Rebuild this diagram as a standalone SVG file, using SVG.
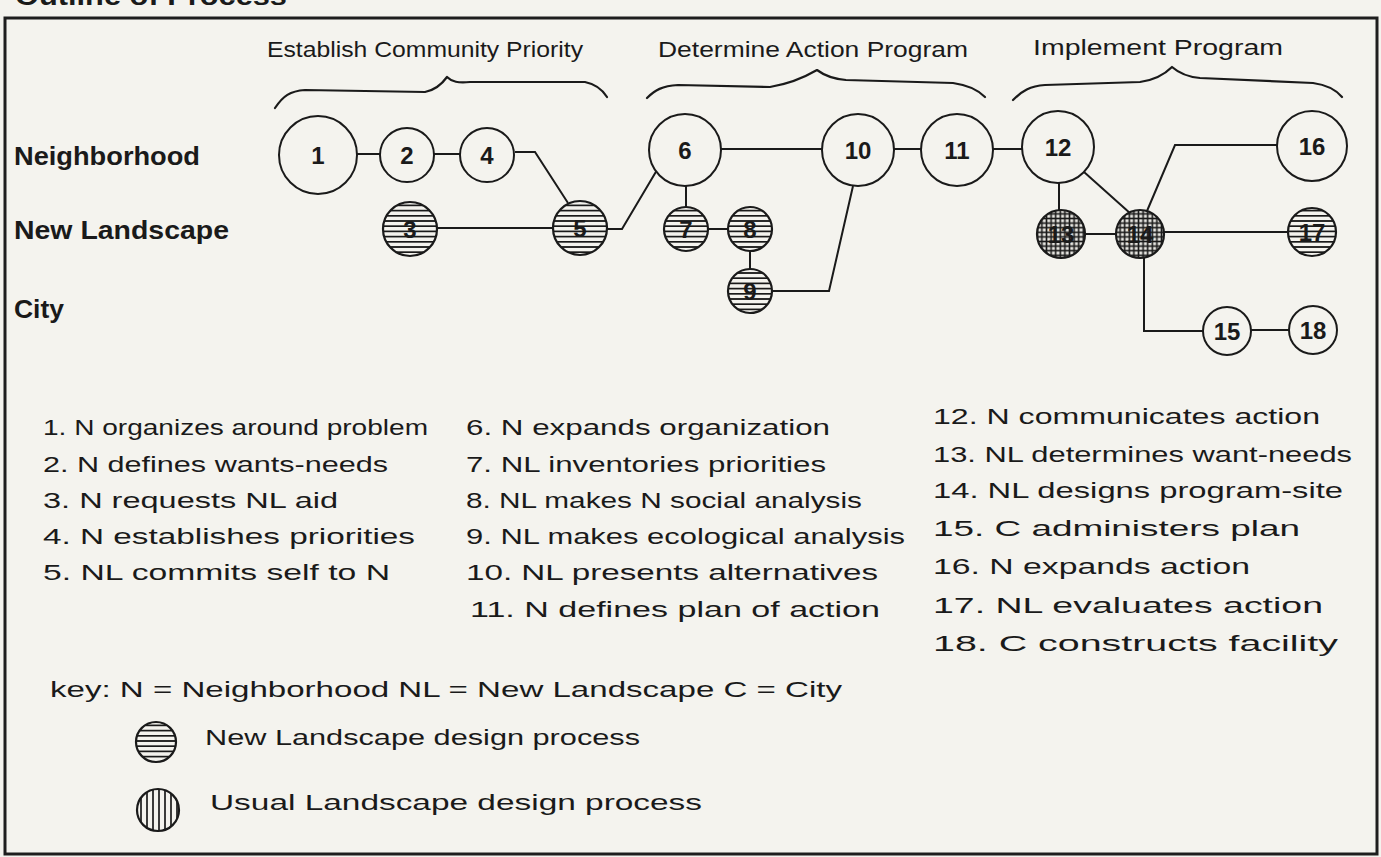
<svg xmlns="http://www.w3.org/2000/svg" width="1381" height="857" viewBox="0 0 1381 857">
<defs>
<pattern id="hh" patternUnits="userSpaceOnUse" width="10" height="5.2">
<rect width="10" height="5.2" fill="#f4f3ee"/>
<line x1="0" y1="2.6" x2="10" y2="2.6" stroke="#1a1a1a" stroke-width="1.7"/>
</pattern>
<pattern id="vv" patternUnits="userSpaceOnUse" width="6" height="10">
<rect width="6" height="10" fill="#f4f3ee"/>
<line x1="3" y1="0" x2="3" y2="10" stroke="#1a1a1a" stroke-width="1.7"/>
</pattern>
<pattern id="xx" patternUnits="userSpaceOnUse" width="4.6" height="4.6">
<rect width="4.6" height="4.6" fill="#e8e7e2"/>
<line x1="0" y1="2.3" x2="4.6" y2="2.3" stroke="#1a1a1a" stroke-width="1.6"/>
<line x1="2.3" y1="0" x2="2.3" y2="4.6" stroke="#1a1a1a" stroke-width="1.6"/>
</pattern>
</defs>
<style>
.bg{fill:#f4f3ee}
.frame{fill:none;stroke:#1e1e1e;stroke-width:3}
.n{fill:#f4f3ee;stroke:#1a1a1a;stroke-width:2}
.h{fill:url(#hh);stroke:#1a1a1a;stroke-width:2.2}
.v{fill:url(#vv);stroke:#1a1a1a;stroke-width:2.2}
.x{fill:url(#xx);stroke:#1a1a1a;stroke-width:2.2}
.num{font-family:"Liberation Sans",Arial,sans-serif;font-weight:bold;font-size:24px;fill:#1a1a1a;text-anchor:middle}
.lane{font-family:"Liberation Sans",Arial,sans-serif;font-weight:bold;font-size:25px;fill:#1a1a1a}
.hw{font-family:"Liberation Sans",Arial,sans-serif;font-size:22px;fill:#1a1a1a}
.title{font-family:"Liberation Sans",Arial,sans-serif;font-weight:bold;font-size:25px;fill:#1a1a1a}
.c{fill:none;stroke:#1a1a1a;stroke-width:2}
.brace{fill:none;stroke:#1a1a1a;stroke-width:2.2;stroke-linecap:round;stroke-linejoin:round}
</style>
<rect class="bg" x="0" y="0" width="1381" height="857"/>
<text class="title" x="15" y="5" textLength="272" lengthAdjust="spacingAndGlyphs">Outline  of  Process</text>
<rect class="frame" x="5" y="18" width="1372" height="836"/>

<g id="lanes">
<text class="lane" x="14" y="165" textLength="186" lengthAdjust="spacingAndGlyphs">Neighborhood</text>
<text class="lane" x="14" y="239" textLength="215" lengthAdjust="spacingAndGlyphs">New  Landscape</text>
<text class="lane" x="14" y="318" textLength="50" lengthAdjust="spacingAndGlyphs">City</text>
</g>

<g id="phases">
<text class="hw" x="267" y="57" textLength="316" lengthAdjust="spacingAndGlyphs">Establish Community Priority</text>
<path class="brace" d="M275,108 C283,96 290,91 305,90 L425,92 C435,90 442,84 447,77 C452,82 458,83 470,82 L585,82 C595,84 602,89 607,97"/>
<text class="hw" x="658" y="57" textLength="310" lengthAdjust="spacingAndGlyphs">Determine Action Program</text>
<path class="brace" d="M647,98 C655,90 662,86 678,85 L770,87 C788,84 805,77 817,70 C825,76 834,79 846,80 L953,83 C968,85 978,90 985,97"/>
<text class="hw" x="1033" y="55" textLength="250" lengthAdjust="spacingAndGlyphs">Implement Program</text>
<path class="brace" d="M1013,100 C1022,91 1030,86 1045,85 L1140,82 C1155,80 1165,74 1172,67 C1180,74 1188,77 1200,78 L1313,83 C1328,85 1337,91 1342,97"/>
</g>

<g id="connectors">
<line class="c" x1="357" y1="154" x2="380" y2="154"/>
<line class="c" x1="434" y1="154" x2="460" y2="154"/>
<polyline class="c" points="515,152 535,152 568,203"/>
<line class="c" x1="437" y1="228" x2="553" y2="228"/>
<polyline class="c" points="607,229 622,229 657,170"/>
<line class="c" x1="721" y1="149" x2="822" y2="149"/>
<line class="c" x1="894" y1="149" x2="921" y2="149"/>
<line class="c" x1="686" y1="185" x2="686" y2="207"/>
<line class="c" x1="707" y1="229" x2="728" y2="229"/>
<line class="c" x1="750" y1="251" x2="750" y2="269"/>
<polyline class="c" points="772,291 829,291 853,186"/>
<line class="c" x1="993" y1="149" x2="1022" y2="149"/>
<line class="c" x1="1059" y1="183" x2="1059" y2="210"/>
<line class="c" x1="1084" y1="172" x2="1131" y2="214"/>
<line class="c" x1="1085" y1="234" x2="1116" y2="234"/>
<polyline class="c" points="1147,211 1175,145 1277,145"/>
<line class="c" x1="1164" y1="232" x2="1288" y2="232"/>
<polyline class="c" points="1144,258 1144,331 1203,331"/>
<line class="c" x1="1251" y1="330" x2="1289" y2="330"/>
</g>

<g id="node1"><circle class="n" cx="318" cy="155" r="39"/><text class="num" x="318" y="164">1</text></g>
<g id="node2"><circle class="n" cx="407" cy="155" r="27"/><text class="num" x="407" y="164">2</text></g>
<g id="node3"><circle class="h" cx="410" cy="229" r="27"/><text class="num" x="410" y="238">3</text></g>
<g id="node4"><circle class="n" cx="487" cy="155" r="27"/><text class="num" x="487" y="164">4</text></g>
<g id="node5"><circle class="h" cx="580" cy="228" r="27"/><text class="num" x="580" y="237">5</text></g>
<g id="node6"><circle class="n" cx="685" cy="150" r="36"/><text class="num" x="685" y="159">6</text></g>
<g id="node7"><circle class="h" cx="686" cy="229" r="22"/><text class="num" x="686" y="238">7</text></g>
<g id="node8"><circle class="h" cx="750" cy="229" r="22"/><text class="num" x="750" y="238">8</text></g>
<g id="node9"><circle class="h" cx="750" cy="291" r="22"/><text class="num" x="750" y="300">9</text></g>
<g id="node10"><circle class="n" cx="858" cy="150" r="36"/><text class="num" x="858" y="159">10</text></g>
<g id="node11"><circle class="n" cx="957" cy="150" r="36"/><text class="num" x="957" y="159">11</text></g>
<g id="node12"><circle class="n" cx="1058" cy="147" r="36"/><text class="num" x="1058" y="156">12</text></g>
<g id="node13"><circle class="x" cx="1061" cy="234" r="24"/><text class="num" x="1061" y="243">13</text></g>
<g id="node14"><circle class="x" cx="1140" cy="234" r="24"/><text class="num" x="1140" y="243">14</text></g>
<g id="node15"><circle class="n" cx="1227" cy="331" r="24"/><text class="num" x="1227" y="340">15</text></g>
<g id="node16"><circle class="n" cx="1312" cy="146" r="35"/><text class="num" x="1312" y="155">16</text></g>
<g id="node17"><circle class="h" cx="1312" cy="232" r="24"/><text class="num" x="1312" y="241">17</text></g>
<g id="node18"><circle class="n" cx="1313" cy="330" r="24"/><text class="num" x="1313" y="339">18</text></g>

<g id="descriptions">
<text class="hw" x="43" y="435" textLength="385" lengthAdjust="spacingAndGlyphs">1. N organizes around problem</text>
<text class="hw" x="43" y="472" textLength="345" lengthAdjust="spacingAndGlyphs">2. N defines  wants-needs</text>
<text class="hw" x="43" y="508" textLength="295" lengthAdjust="spacingAndGlyphs">3. N requests NL aid</text>
<text class="hw" x="43" y="544" textLength="372" lengthAdjust="spacingAndGlyphs">4. N establishes  priorities</text>
<text class="hw" x="43" y="580" textLength="347" lengthAdjust="spacingAndGlyphs">5. NL commits self to N</text>

<text class="hw" x="466" y="435" textLength="364" lengthAdjust="spacingAndGlyphs">6. N expands organization</text>
<text class="hw" x="466" y="472" textLength="360" lengthAdjust="spacingAndGlyphs">7. NL inventories priorities</text>
<text class="hw" x="466" y="508" textLength="396" lengthAdjust="spacingAndGlyphs">8. NL makes N social analysis</text>
<text class="hw" x="466" y="544" textLength="439" lengthAdjust="spacingAndGlyphs">9. NL makes ecological analysis</text>
<text class="hw" x="466" y="580" textLength="412" lengthAdjust="spacingAndGlyphs">10. NL presents alternatives</text>
<text class="hw" x="470" y="617" textLength="410" lengthAdjust="spacingAndGlyphs">11. N  defines plan of action</text>

<text class="hw" x="933" y="424" textLength="387" lengthAdjust="spacingAndGlyphs">12. N communicates action</text>
<text class="hw" x="933" y="462" textLength="419" lengthAdjust="spacingAndGlyphs">13. NL determines want-needs</text>
<text class="hw" x="933" y="498" textLength="410" lengthAdjust="spacingAndGlyphs">14. NL designs program-site</text>
<text class="hw" x="933" y="536" textLength="367" lengthAdjust="spacingAndGlyphs">15. C administers plan</text>
<text class="hw" x="933" y="574" textLength="317" lengthAdjust="spacingAndGlyphs">16. N expands action</text>
<text class="hw" x="933" y="613" textLength="390" lengthAdjust="spacingAndGlyphs">17. NL evaluates action</text>
<text class="hw" x="933" y="651" textLength="405" lengthAdjust="spacingAndGlyphs">18. C constructs facility</text>
</g>

<g id="key">
<text class="hw" x="50" y="697" textLength="792" lengthAdjust="spacingAndGlyphs">key:  N = Neighborhood   NL = New Landscape   C = City</text>
<circle class="h" cx="156" cy="742" r="20"/>
<text class="hw" x="205" y="745" textLength="435" lengthAdjust="spacingAndGlyphs">New Landscape design process</text>
<circle class="v" cx="158" cy="810" r="21"/>
<text class="hw" x="210" y="810" textLength="492" lengthAdjust="spacingAndGlyphs">Usual Landscape design process</text>
</g>
</svg>
